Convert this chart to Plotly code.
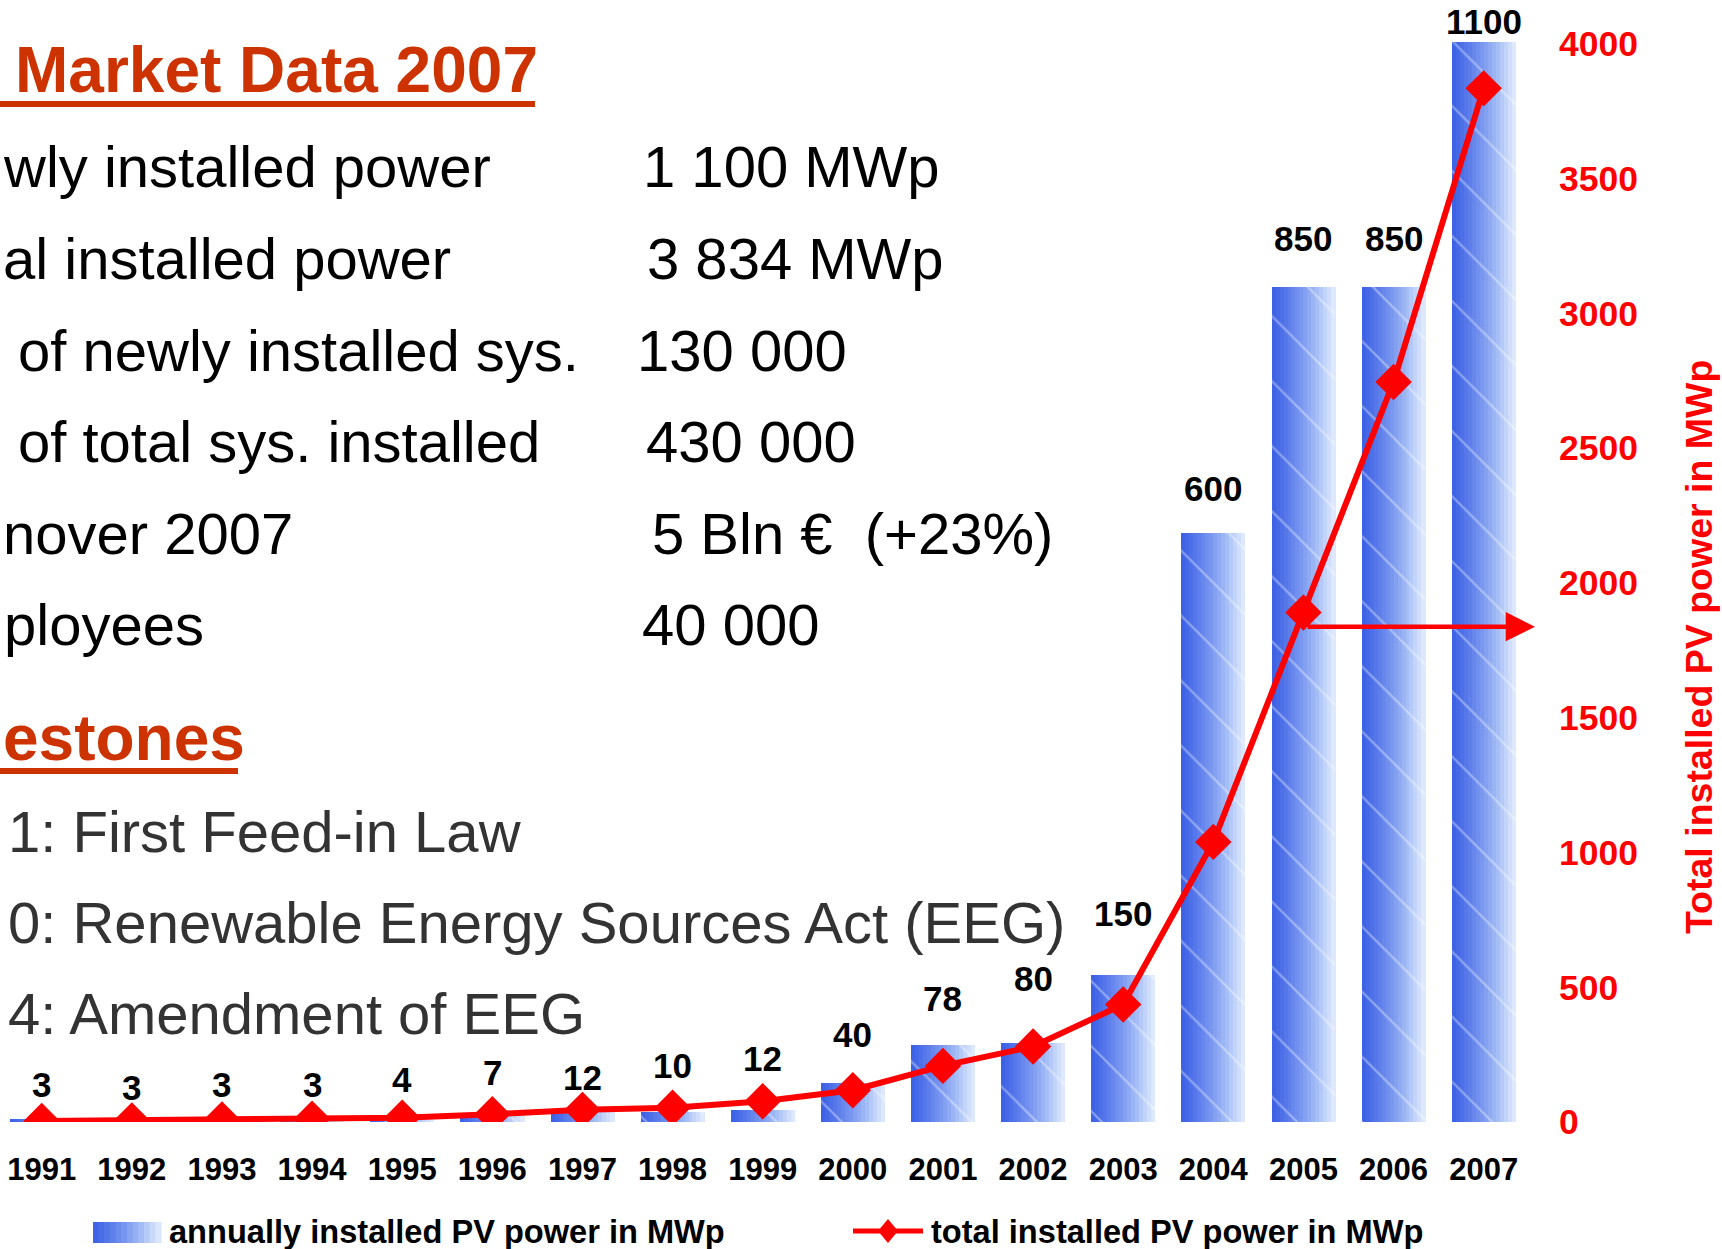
import plotly.graph_objects as go

# ---------------- data ----------------
years = list(range(1991, 2008))
annual_mwp = [3, 3, 3, 3, 4, 7, 12, 10, 12, 40, 78, 80, 150, 600, 850, 850, 1100]
total_mwp = [4, 6, 9, 12, 16, 29, 45, 53, 77, 118, 208, 280, 436, 1039, 1890, 2745, 3834]
right_tick_vals = [0, 500, 1000, 1500, 2000, 2500, 3000, 3500, 4000]
year_labels = [str(y) for y in years]

# text block as visible in the (cropped) reference
market_labels = ["wly installed power", "al installed power",
                 "of newly installed sys.", "of total sys. installed",
                 "nover 2007", "ployees"]
market_values = ["1 100 MWp", "3 834 MWp", "130 000", "430 000",
                 "5 Bln €\u00a0 (+23%)", "40 000"]
milestones_title = "estones"
milestones = ["1: First Feed-in Law",
              "0: Renewable Energy Sources Act (EEG)",
              "4: Amendment of EEG"]
arrow_level_mwp = 1837

# ---------------- layout geometry (pixels) ----------------
W, H = 1722, 1249
PL, PR, PT, PB = 0, 1540, 20, 1122
X_RANGE = [1990.537, 2007.625]
Y_LEFT = [0, 1121.9]
Y_RIGHT = [0, 4087.5]
label_lift_px = [35, 32, 35, 35, 39, 43, 33, 47, 52, 48, 47, 65, 61, 44, 49, 49, 20]
label_x_px = [1, 1, 16, 16, 1, 2]
value_x_px = [641, 645, 635, 644, 650, 640]

def fx(px):
    return (px - PL) / (PR - PL)

def fy(py):
    return (PB - py) / (PB - PT)

FONT = "Arial, Liberation Sans, Helvetica, sans-serif"
RED = "#FF0000"
ORANGE = "#CC3300"

# gradient colours for the solar-panel bars
stops = [(0.0, (58, 95, 228)), (0.2, (82, 117, 233)), (0.45, (118, 148, 239)),
         (0.7, (162, 187, 245)), (0.88, (202, 218, 250)), (1.0, (228, 237, 253))]

def grad(t):
    for (t0, c0), (t1, c1) in zip(stops[:-1], stops[1:]):
        if t <= t1:
            f = (t - t0) / (t1 - t0)
            c = [round(a + (b - a) * f) for a, b in zip(c0, c1)]
            return "rgb(%d,%d,%d)" % tuple(c)
    return "rgb(%d,%d,%d)" % stops[-1][1]

fig = go.Figure()

BAR_W = 0.707
N = 16
for i in range(N):
    t = (i + 0.5) / N
    fig.add_trace(go.Bar(
        x=years, y=annual_mwp, width=BAR_W / N * 1.08,
        offset=-BAR_W / 2 + i * BAR_W / N,
        marker=dict(color=grad(t), line=dict(width=0)),
        name="annually installed PV power in MWp", showlegend=False,
        xaxis="x", yaxis="y"))

# faint panel texture on the bars
fig.add_trace(go.Bar(
    x=years, y=annual_mwp, width=BAR_W, offset=-BAR_W / 2,
    marker=dict(color="rgba(0,0,0,0)", line=dict(width=0),
                pattern=dict(shape="\\", fgcolor="white", fgopacity=0.35,
                             bgcolor="rgba(0,0,0,0)", size=46, solidity=0.05)),
    name="annually installed PV power in MWp", showlegend=False,
    hoverinfo="skip", xaxis="x", yaxis="y"))

fig.add_trace(go.Scatter(
    x=years, y=total_mwp, mode="lines+markers",
    line=dict(color=RED, width=6),
    marker=dict(symbol="diamond", size=28, color=RED),
    name="total installed PV power in MWp", showlegend=False,
    xaxis="x", yaxis="y2"))

annotations = []
# value labels above bars
for yr, v, lift in zip(years, annual_mwp, label_lift_px):
    annotations.append(dict(x=yr, y=v, xref="x", yref="y", text=str(v),
                            showarrow=False, yanchor="middle", yshift=lift,
                            font=dict(family=FONT, size=35, color="black", weight="bold")))

# arrow from 2005 total to the right axis
annotations.append(dict(x=2007.569, y=arrow_level_mwp, xref="x", yref="y2",
                        ax=2005.03, ay=arrow_level_mwp, axref="x", ayref="y2",
                        showarrow=True, arrowhead=2, arrowsize=1.3, arrowwidth=4.5,
                        arrowcolor=RED, text=""))

# text block
annotations.append(dict(x=fx(13), y=fy(70.5), xref="paper", yref="paper",
                        text="Market Data 2007", showarrow=False,
                        xanchor="left", yanchor="middle",
                        font=dict(family=FONT, size=64, color=ORANGE, weight="bold")))
for i, (lab, val) in enumerate(zip(market_labels, market_values)):
    ry = 167 + i * 91.6
    annotations.append(dict(x=fx(label_x_px[i]), y=fy(ry), xref="paper", yref="paper",
                            text=lab, showarrow=False, xanchor="left", yanchor="middle",
                            font=dict(family=FONT, size=58, color="black")))
    annotations.append(dict(x=fx(value_x_px[i]), y=fy(ry), xref="paper", yref="paper",
                            text=val, showarrow=False, xanchor="left", yanchor="middle",
                            font=dict(family=FONT, size=58, color="black")))

annotations.append(dict(x=fx(1), y=fy(738), xref="paper", yref="paper",
                        text=milestones_title, showarrow=False,
                        xanchor="left", yanchor="middle",
                        font=dict(family=FONT, size=64, color=ORANGE, weight="bold")))
for i, m in enumerate(milestones):
    ry = 831 + i * 91.3
    annotations.append(dict(x=fx(6), y=fy(ry), xref="paper", yref="paper",
                            text=m, showarrow=False, xanchor="left", yanchor="middle",
                            font=dict(family=FONT, size=58, color="#333333")))

# right axis title
annotations.append(dict(x=fx(1699), y=fy(647), xref="paper", yref="paper",
                        text="Total installed PV power in MWp", textangle=-90,
                        showarrow=False, xanchor="center", yanchor="middle",
                        font=dict(family=FONT, size=37.5, color=RED, weight="bold")))

# legend texts
annotations.append(dict(x=fx(167), y=fy(1231), xref="paper", yref="paper",
                        text="annually installed PV power in MWp", showarrow=False,
                        xanchor="left", yanchor="middle",
                        font=dict(family=FONT, size=32.6, color="black", weight="bold")))
annotations.append(dict(x=fx(929), y=fy(1231), xref="paper", yref="paper",
                        text="total installed PV power in MWp", showarrow=False,
                        xanchor="left", yanchor="middle",
                        font=dict(family=FONT, size=32.6, color="black", weight="bold")))

shapes = []
# underlines
shapes.append(dict(type="line", xref="paper", yref="paper", x0=fx(-10), x1=fx(535),
                   y0=fy(104), y1=fy(104), line=dict(color=ORANGE, width=6)))
shapes.append(dict(type="line", xref="paper", yref="paper", x0=fx(-10), x1=fx(238),
                   y0=fy(771), y1=fy(771), line=dict(color=ORANGE, width=6)))
# legend swatch for bars (gradient)
sw_x0, sw_x1, sw_y0, sw_y1 = 93, 161, 1222, 1243
NS = 12
for i in range(NS):
    a = sw_x0 + (sw_x1 - sw_x0) * i / NS
    b = sw_x0 + (sw_x1 - sw_x0) * (i + 1) / NS + 0.6
    shapes.append(dict(type="rect", xref="paper", yref="paper",
                       x0=fx(a), x1=fx(b), y0=fy(sw_y0), y1=fy(sw_y1),
                       fillcolor=grad((i + 0.5) / NS), line=dict(width=0)))
# legend symbol for line
shapes.append(dict(type="line", xref="paper", yref="paper", x0=fx(853), x1=fx(923),
                   y0=fy(1231), y1=fy(1231), line=dict(color=RED, width=5)))
cx, cy, hw, hh = 888, 1231, 10, 12
path = "M %f,%f L %f,%f L %f,%f L %f,%f Z" % (
    fx(cx - hw), fy(cy), fx(cx), fy(cy - hh), fx(cx + hw), fy(cy), fx(cx), fy(cy + hh))
shapes.append(dict(type="path", xref="paper", yref="paper", path=path,
                   fillcolor=RED, line=dict(color=RED, width=0)))

fig.update_layout(
    width=W, height=H,
    margin=dict(l=PL, r=W - PR, t=PT, b=H - PB, pad=0),
    paper_bgcolor="white", plot_bgcolor="white",
    barmode="overlay", bargap=0,
    showlegend=False,
    xaxis=dict(range=X_RANGE, tickmode="array", tickvals=years, ticktext=year_labels,
               showgrid=False, zeroline=False, showline=False, ticks="",
               ticklabelstandoff=26,
               tickfont=dict(family=FONT, size=31, color="black", weight="bold")),
    yaxis=dict(range=Y_LEFT, visible=False, showgrid=False, zeroline=False),
    yaxis2=dict(range=Y_RIGHT, overlaying="y", side="right", tickmode="array",
                tickvals=right_tick_vals, showgrid=False, zeroline=False,
                showline=False, ticks="", ticklabelstandoff=18,
                tickfont=dict(family=FONT, size=35.5, color=RED, weight="bold")),
    annotations=annotations, shapes=shapes,
)

fig.write_html("out.html", include_plotlyjs=True,
               config={"displayModeBar": False},
               post_script="document.body.style.margin='0';")
